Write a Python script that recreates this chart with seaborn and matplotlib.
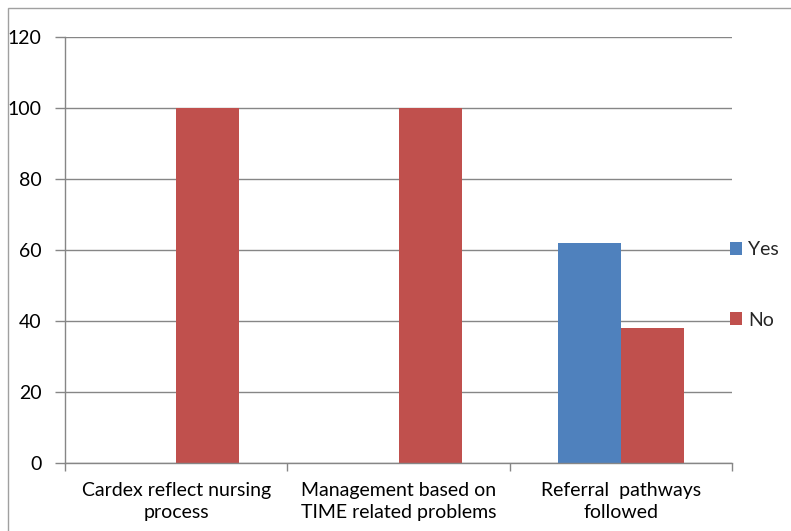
import pandas as pd
import seaborn as sns
import matplotlib.pyplot as plt
from matplotlib.patches import Rectangle

categories = ['Cardex reflect nursing\nprocess',
              'Management based on\nTIME related problems',
              'Referral  pathways\nfollowed']
yes_values = [0, 0, 62]
no_values = [100, 100, 38]
y_ticks = [0, 20, 40, 60, 80, 100, 120]

df = pd.DataFrame({
    'Category': categories * 2,
    'Response': ['Yes'] * 3 + ['No'] * 3,
    'Value': yes_values + no_values,
})

sns.set_theme(style='white')
plt.rcParams['font.family'] = ['Lato', 'DejaVu Sans']

fig = plt.figure(figsize=(7.91, 5.31), dpi=100)
ax = fig.add_axes([65 / 791, 1 - 463 / 531, 667 / 791, 426 / 531])

sns.barplot(data=df, x='Category', y='Value', hue='Response',
            palette={'Yes': '#4F81BD', 'No': '#C0504D'},
            width=0.567, saturation=1, linewidth=0, ax=ax)

grid_col = '#868686'
ax.set_ylim(0, 120)
ax.set_xlim(-0.5, 2.5)
ax.set_yticks(y_ticks)
ax.yaxis.grid(True, color=grid_col, linewidth=1)
ax.set_axisbelow(True)
for side in ['top', 'right']:
    ax.spines[side].set_visible(False)
for side in ['left', 'bottom']:
    ax.spines[side].set_color(grid_col)
    ax.spines[side].set_linewidth(1)

ax.set_xticks([-0.5, 0.5, 1.5, 2.5], minor=True)
ax.tick_params(axis='x', which='major', length=0, pad=14, labelsize=14, colors='black')
ax.tick_params(axis='x', which='minor', length=6, color=grid_col, width=1, bottom=True)
ax.tick_params(axis='y', length=7, color=grid_col, width=1, left=True, pad=10,
               labelsize=14, colors='black')
for lbl in ax.get_xticklabels():
    lbl.set_linespacing(1.3)
ax.set_xlabel('')
ax.set_ylabel('')

ax.legend(loc='center left', bbox_to_anchor=(0.985, 0.418), frameon=False,
          handlelength=0.65, handleheight=0.65, labelspacing=2.75,
          handletextpad=0.3, fontsize=14, borderaxespad=0)

fig.patches.append(Rectangle((8 / 791, -0.1), 2, 1 - 8 / 531 + 0.1,
                             transform=fig.transFigure, fill=False,
                             edgecolor='#A0A0A0', linewidth=1))

fig.savefig('out.png', dpi=100)
